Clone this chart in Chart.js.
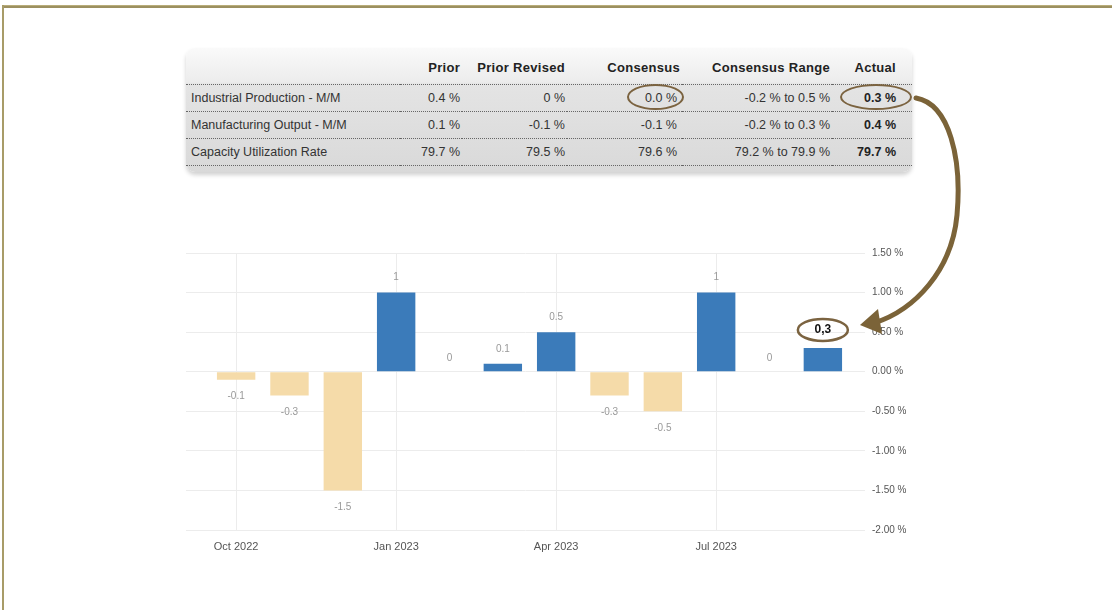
<!DOCTYPE html>
<html>
<head>
<meta charset="utf-8">
<script src="https://cdn.jsdelivr.net/npm/chart.js@4.4.0/dist/chart.umd.min.js"></script>
<style>
  html, body { margin: 0; padding: 0; background: #fff; }
  #page { position: relative; width: 1112px; height: 610px; overflow: hidden; font-family: "Liberation Sans", Arial, sans-serif; }
  .topline { position: absolute; left: 2px; top: 5px; right: 0; height: 1px; background: #b9ad7a; border-bottom: 2px solid #9c9060; }
  .leftline { position: absolute; left: 2px; top: 5px; bottom: 0; width: 2px; background: #a89c68; }
  #tbl { position: absolute; left: 186px; top: 48px; width: 726px; height: 124px; border-radius: 9px;
         background: linear-gradient(#fafafa 0px, #ececec 34px, #e4e4e4 36px, #d9d9d9 124px);
         box-shadow: 0 3px 4px rgba(0,0,0,0.18); }
  table { border-collapse: collapse; table-layout: fixed; width: 726px; font-size: 12.5px; color: #333; }
  th { font-weight: bold; font-size: 13px; letter-spacing: 0.3px; text-align: right; height: 27px; vertical-align: bottom; padding: 0 2px 9px 0; color: #222; }
  td { text-align: right; height: 26px; padding: 0 2px 0 0; border-top: 1px dotted #666; }
  td.lbl { text-align: left; padding-left: 5px; }
  td.act { font-weight: bold; color: #222; }
  th:last-child, td.act { padding-right: 16px; }
  td.cons { padding-right: 5px; }
  tr:last-child td { border-bottom: 1px dotted #666; }
  .ell { position: absolute; border: 2.5px solid #7b6340; border-radius: 50%; box-sizing: border-box; }
  #wrap { position: absolute; left: 186px; top: 240px; width: 750px; height: 320px; }
  svg { position: absolute; left: 0; top: 0; pointer-events: none; }
</style>
</head>
<body>
<div id="page">
  <div class="topline"></div>
  <div class="leftline"></div>
  <div id="tbl">
    <table>
      <colgroup><col style="width:214px"><col style="width:62px"><col style="width:105px"><col style="width:115px"><col style="width:150px"><col style="width:80px"></colgroup>
      <thead><tr id="head"></tr></thead>
      <tbody id="rows"></tbody>
    </table>
  </div>
  <div class="ell" style="left:627px; top:84px; width:57px; height:26px;"></div>
  <div class="ell" style="left:840px; top:84px; width:72px; height:26px;"></div>
  <div id="wrap"><canvas id="chart"></canvas></div>
  <svg width="1112" height="610">
    <path d="M 916 98 C 950 104, 962 160, 957 215 C 952 270, 915 310, 874 323" fill="none" stroke="#7b6338" stroke-width="5" stroke-linecap="round"/>
    <polygon points="860,325 878,309 882,334" fill="#7b6338"/>
  </svg>
</div>
<script>
// table
const headers = ['', 'Prior', 'Prior Revised', 'Consensus', 'Consensus Range', 'Actual'];
const rowNames = ['Industrial Production - M/M', 'Manufacturing Output - M/M', 'Capacity Utilization Rate'];
const prior = ['0.4 %', '0.1 %', '79.7 %'];
const priorRevised = ['0 %', '-0.1 %', '79.5 %'];
const consensus = ['0.0 %', '-0.1 %', '79.6 %'];
const consensusRange = ['-0.2 % to 0.5 %', '-0.2 % to 0.3 %', '79.2 % to 79.9 %'];
const actual = ['0.3 %', '0.4 %', '79.7 %'];

// chart
const months = ['Oct 2022', 'Nov 2022', 'Dec 2022', 'Jan 2023', 'Feb 2023', 'Mar 2023',
                'Apr 2023', 'May 2023', 'Jun 2023', 'Jul 2023', 'Aug 2023', 'Sep 2023'];
const values = [-0.1, -0.3, -1.5, 1, 0, 0.1, 0.5, -0.3, -0.5, 1, 0, 0.3];
const xTickIdx = [0, 3, 6, 9];
const yTicks = [-2, -1.5, -1, -0.5, 0, 0.5, 1, 1.5];

document.getElementById('head').innerHTML = headers.map(h => '<th>' + h + '</th>').join('');
document.getElementById('rows').innerHTML = rowNames.map((n, i) =>
  '<tr><td class="lbl">' + n + '</td><td>' + prior[i] + '</td><td>' + priorRevised[i] + '</td><td class="cons">' +
  consensus[i] + '</td><td>' + consensusRange[i] + '</td><td class="act">' + actual[i] + '</td></tr>'
).join('');

const BLUE = '#3b7bba';
const BEIGE = '#f5dba9';

const valueLabels = {
  id: 'valueLabels',
  afterDatasetsDraw(chart) {
    const ctx = chart.ctx;
    const meta = chart.getDatasetMeta(0);
    const zeroY = chart.scales.y.getPixelForValue(0);
    ctx.save();
    ctx.textAlign = 'center';
    ctx.textBaseline = 'middle';
    meta.data.forEach((bar, i) => {
      const v = values[i];
      const last = i === values.length - 1;
      let y;
      if (v > 0) y = bar.y - (last ? 18 : 15);
      else if (v < 0) y = bar.y + 17;
      else y = zeroY - 13;
      if (last) {
        ctx.font = 'bold 12px "Liberation Sans", Arial, sans-serif';
        ctx.fillStyle = '#111';
        ctx.fillText(String(v).replace('.', ','), bar.x, y);
        ctx.beginPath();
        ctx.ellipse(bar.x, y, 25, 11, 0, 0, Math.PI * 2);
        ctx.strokeStyle = '#7b6340';
        ctx.lineWidth = 2.5;
        ctx.stroke();
      } else {
        ctx.font = '10px "Liberation Sans", Arial, sans-serif';
        ctx.fillStyle = '#999';
        ctx.fillText(String(v), bar.x, y);
      }
    });
    ctx.restore();
  }
};

new Chart(document.getElementById('chart'), {
  type: 'bar',
  data: {
    datasets: [{
      data: values.map((v, i) => ({ x: i, y: v })),
      backgroundColor: values.map(v => v >= 0 ? BLUE : BEIGE),
      barPercentage: 0.72,
      categoryPercentage: 1
    }]
  },
  options: {
    responsive: true,
    maintainAspectRatio: false,
    animation: false,
    layout: { padding: { top: 10, left: 0, right: 0, bottom: 0 } },
    plugins: { legend: { display: false }, tooltip: { enabled: false } },
    scales: {
      x: {
        type: 'linear',
        min: -0.94,
        max: 11.79,
        offset: false,
        afterBuildTicks: axis => { axis.ticks = xTickIdx.map(v => ({ value: v })); },
        afterFit: axis => { axis.height = 30; },
        ticks: {
          autoSkip: false,
          maxRotation: 0,
          padding: 10,
          color: '#555',
          font: { family: '"Liberation Sans", Arial, sans-serif', size: 11 },
          callback: v => months[v]
        },
        grid: { color: '#ececec', drawTicks: false, offset: false },
        border: { display: false }
      },
      y: {
        position: 'right',
        min: -2,
        max: 1.5,
        afterBuildTicks: axis => { axis.ticks = yTicks.map(v => ({ value: v })); },
        afterFit: axis => { axis.width = 71; },
        ticks: {
          padding: 7,
          color: '#555',
          font: { family: '"Liberation Sans", Arial, sans-serif', size: 10 },
          callback: v => v.toFixed(2) + ' %'
        },
        grid: { color: '#ececec', drawTicks: false },
        border: { display: false }
      }
    }
  },
  plugins: [valueLabels]
});
</script>
</body>
</html>
